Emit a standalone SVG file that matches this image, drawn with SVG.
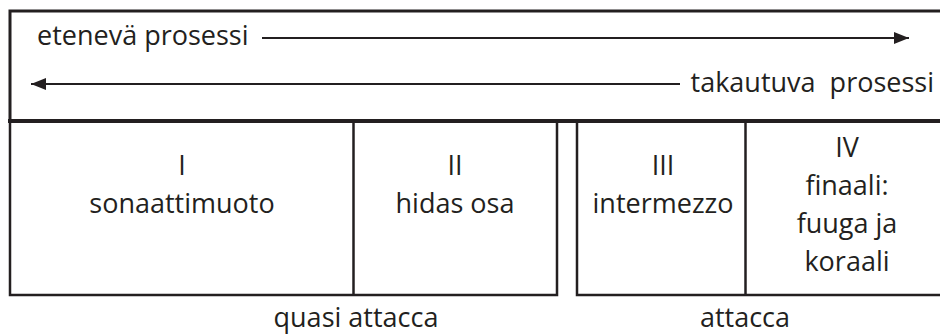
<svg xmlns="http://www.w3.org/2000/svg" width="940" height="336" viewBox="0 0 940 336">
<style>
.ln{stroke:#231f20;fill:none}
text{font-family:"Open Sans","Noto Sans",sans-serif;font-size:27px;fill:#231f20}
.c{text-anchor:middle}
</style>
<defs>
<marker id="ah" viewBox="0 0 15 12" refX="15" refY="6" markerWidth="15" markerHeight="12" markerUnits="userSpaceOnUse" orient="auto">
<path d="M0,0 L15,6 L0,12 Z" fill="#231f20"/>
</marker>
</defs>
<rect width="940" height="336" fill="#fff"/>
<g id="process-box">
<path class="ln" stroke-width="3" d="M946,11 H10 V121"/>
<text x="37" y="45">etenevä prosessi</text>
<text x="934" y="92" text-anchor="end" xml:space="preserve">takautuva  prosessi</text>
</g>
<g id="connectors">
<line class="ln" stroke-width="2.2" x1="262" y1="38" x2="909" y2="38" marker-end="url(#ah)"/>
<line class="ln" stroke-width="2.2" x1="680" y1="84" x2="31" y2="84" marker-end="url(#ah)"/>
</g>
<g id="divider">
<line class="ln" stroke-width="4" x1="8" y1="121" x2="946" y2="121"/>
</g>
<g id="group-left">
<path class="ln" stroke-width="2.5" d="M10,121 V295 H557 V121"/>
</g>
<g id="group-right">
<path class="ln" stroke-width="2.5" d="M577,121 V295 H946"/>
</g>
<g id="mov-I">
<text class="c" x="182" y="175">I</text>
<text class="c" x="182" y="213">sonaattimuoto</text>
</g>
<g id="mov-II">
<line class="ln" stroke-width="2.5" x1="353.5" y1="121" x2="353.5" y2="295"/>
<text class="c" x="455" y="175">II</text>
<text class="c" x="455" y="213">hidas osa</text>
</g>
<g id="mov-III">
<text class="c" x="663" y="175">III</text>
<text class="c" x="663" y="213">intermezzo</text>
</g>
<g id="mov-IV">
<line class="ln" stroke-width="2.5" x1="745.5" y1="121" x2="745.5" y2="295"/>
<text class="c" x="847" y="157">IV</text>
<text class="c" x="847" y="195">finaali:</text>
<text class="c" x="847" y="233">fuuga ja</text>
<text class="c" x="847" y="271">koraali</text>
</g>
<g id="labels">
<text class="c" x="356" y="327">quasi attacca</text>
<text class="c" x="745" y="327">attacca</text>
</g>
</svg>
